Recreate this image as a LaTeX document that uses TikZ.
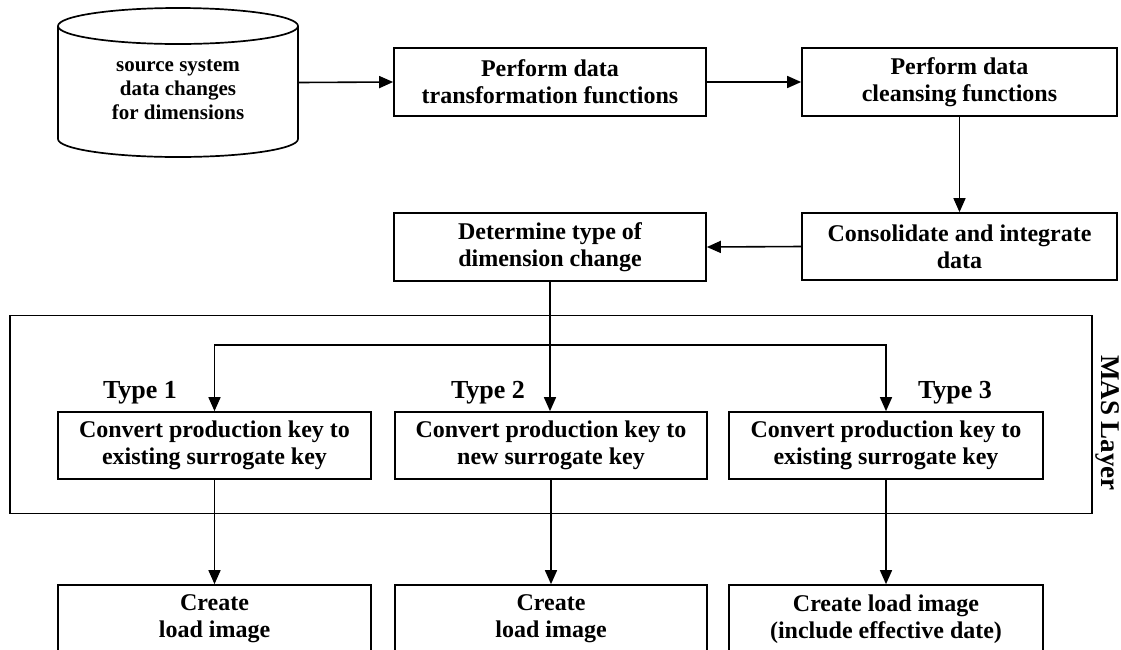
\documentclass[tikz,border=0pt]{standalone}
\usepackage{fontspec}
\setmainfont{Liberation Serif}
\usetikzlibrary{arrows.meta}
\begin{document}
\begin{tikzpicture}[x=1pt, y=-1pt,
  line width=1.7pt,
  procbox/.style={draw, rectangle, align=center, inner sep=0pt,
    font=\fontsize{24}{27}\selectfont\bfseries},
  dbtext/.style={align=center, inner sep=0pt,
    font=\fontsize{21}{24}\selectfont\bfseries},
  typelabel/.style={inner sep=0pt, font=\fontsize{26}{28}\selectfont\bfseries},
  arr/.style={-{Triangle[length=14pt, width=12pt]}, line width=1.6pt}]
\useasboundingbox (0,0) rectangle (1121,649);
\clip (0,0) rectangle (1121,649);

% source data store drawn as a cylinder
\node[minimum width=240pt, minimum height=149pt, inner sep=0pt] (db) at (178,82.5) {};
\node[dbtext] (dbtxt) at (178,89.5) {source system\\data changes\\for dimensions};
\draw (178,26) ellipse [x radius=120pt, y radius=18pt];
\draw (58,26) -- (58,139)
      arc [start angle=180, end angle=360, x radius=120pt, y radius=18pt]
      -- (298,26);

% upper process chain
\node[procbox, minimum width=312pt, minimum height=68pt] (xform) at (550,82)
  {Perform data\\transformation functions};
\node[procbox, minimum width=315pt, minimum height=68pt] (clean) at (959.5,82)
  {Perform data\\cleansing functions};
\node[procbox, minimum width=315pt, minimum height=67pt] (cons) at (959.5,246.5)
  {Consolidate and integrate\\data};
\node[procbox, minimum width=312pt, minimum height=68pt] (det) at (550,247)
  {Determine type of\\dimension change};

% MAS layer frame
\node[draw, rectangle, minimum width=1082pt, minimum height=198pt, inner sep=0pt]
  (mas) at (551,414.5) {};
\node[rotate=-90, inner sep=0pt, font=\fontsize{27}{29}\selectfont\bfseries]
  (maslbl) at (1108,423) {MAS Layer};

% conversion steps
\node[procbox, minimum width=313pt, minimum height=67pt] (ty1) at (214.5,445.5)
  {Convert production key to\\existing surrogate key};
\node[procbox, minimum width=312pt, minimum height=67pt] (ty2) at (551,445.5)
  {Convert production key to\\new surrogate key};
\node[procbox, minimum width=314pt, minimum height=67pt] (ty3) at (886,445.5)
  {Convert production key to\\existing surrogate key};
\node[typelabel] (lbl1) at (140,393) {Type 1};
\node[typelabel] (lbl2) at (488,393) {Type 2};
\node[typelabel] (lbl3) at (955,393) {Type 3};

% load image steps
\node[procbox, minimum width=313pt, minimum height=68pt] (ld1) at (214.5,619)
  {Create\\load image};
\node[procbox, minimum width=312pt, minimum height=68pt] (ld2) at (551,619)
  {Create\\load image};
\node[procbox, minimum width=314pt, minimum height=68pt] (ld3) at (886,619)
  {Create load image\\(include effective date)};

% connectors
\draw[arr] (db.east) -- (xform.west);
\draw[arr] (xform.east) -- (clean.west);
\draw[arr] (clean.south) -- (cons.north);
\draw[arr] (cons.west) -- (det.east);
\draw[arr] (det.south) -- (det.south |- ty2.north);
\coordinate (split) at (det.south |- 0,345);
\draw[arr] (split) -| (ty1.north);
\draw[arr] (split) -| (ty3.north);
\draw[arr] (ty1.south) -- (ld1.north);
\draw[arr] (ty2.south) -- (ld2.north);
\draw[arr] (ty3.south) -- (ld3.north);
\end{tikzpicture}
\end{document}
